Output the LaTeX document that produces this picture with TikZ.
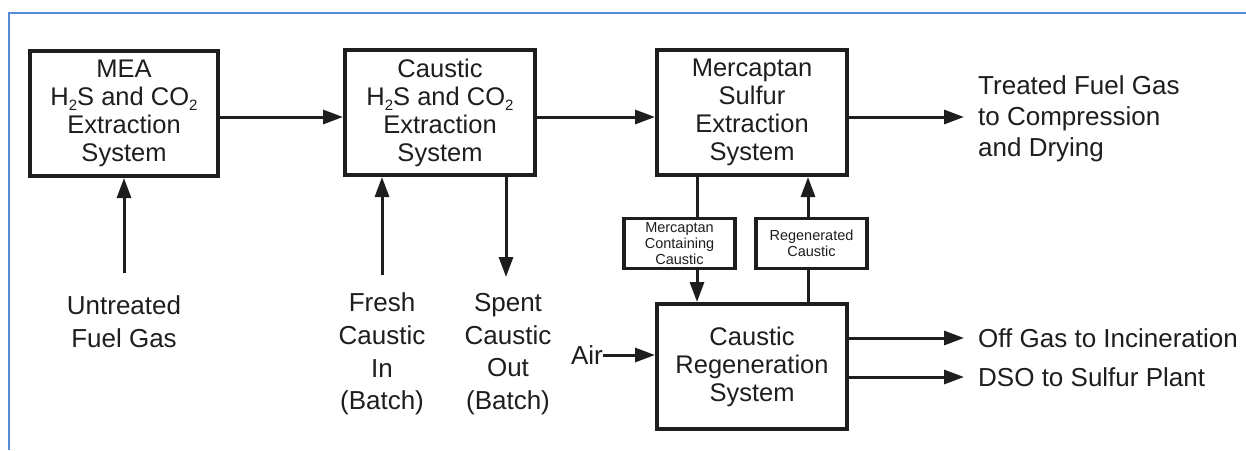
\documentclass[tikz,border=0pt]{standalone}
\usepackage{fontspec}
\setmainfont{Liberation Sans}
\usetikzlibrary{arrows.meta}
\definecolor{frameblue}{RGB}{84,141,212}
\definecolor{ink}{RGB}{30,30,30}
\newcommand{\sbt}[1]{\raisebox{-0.2em}{\fontsize{15}{15}\selectfont #1}}
\tikzset{
  bigbox/.style={draw=ink, line width=4pt, minimum width=190pt, minimum height=125pt,
    align=center, inner sep=0pt, font=\fontsize{25.5}{28}\selectfont, text=ink},
  smallbox/.style={draw=ink, line width=3.5pt, minimum width=111pt, minimum height=50pt,
    align=center, inner sep=0pt, font=\fontsize{14.5}{16}\selectfont, text=ink},
  lbl/.style={inner sep=0pt, font=\fontsize{26}{32.7}\selectfont, text=ink},
  flow/.style={draw=ink, line width=3pt, -{Triangle[length=20pt,width=14pt]}},
  plain/.style={draw=ink, line width=3pt}
}
\begin{document}
\begin{tikzpicture}[x=1pt,y=-1pt]
\useasboundingbox (0,0) rectangle (1246,450);
\fill[white] (0,0) rectangle (1246,450);
\draw[frameblue, line width=2pt] (1246,12.5) -- (8.5,12.5) -- (8.5,450);

% main boxes
\node[bigbox, minimum width=188pt] (mea) at (124,113.5) {MEA\\H\sbt{2}S and CO\sbt{2}\\Extraction\\System};
\node[bigbox] (caus) at (440,112.5) {Caustic\\H\sbt{2}S and CO\sbt{2}\\Extraction\\System};
\node[bigbox] (merc) at (752,112.5) {Mercaptan\\Sulfur\\Extraction\\System};
\node[bigbox] (regen) at (752,366.5) {Caustic\\Regeneration\\System};

% small boxes
\node[smallbox] (mcc) at (679.5,243.5) {Mercaptan\\Containing\\Caustic};
\node[smallbox] (rgc) at (811.5,243.5) {Regenerated\\Caustic};

% labels
\node[lbl, align=center, font=\fontsize{26}{33}\selectfont] (untr) at (124,321.5) {Untreated\\Fuel Gas};
\node[lbl, align=center] (fresh) at (382,354) {Fresh\\Caustic\\In\\(Batch)};
\node[lbl, align=center] (spent) at (508,354) {Spent\\Caustic\\Out\\(Batch)};
\node[lbl, align=left, anchor=west, font=\fontsize{26}{31}\selectfont] (treat) at (978,119) {Treated Fuel Gas\\to Compression\\and Drying};
\node[lbl, anchor=east] (air) at (603,355) {Air};
\node[lbl, anchor=west] (off) at (978,338) {Off Gas to Incineration};
\node[lbl, anchor=west] (dso) at (978,377) {DSO to Sulfur Plant};

% coordinates for free ends and lanes
\coordinate (untrtop) at (124,273);
\coordinate (freshtop) at (382,275);
\coordinate (spentend) at (506,277);
\coordinate (treatend) at (964,117);
\coordinate (offend) at (964,338);
\coordinate (dsoend) at (964,377);
\coordinate (laneL) at (697,0);
\coordinate (laneR) at (808,0);
\coordinate (cfy) at (0,117);

% connectors
\draw[flow] (mea.east |- cfy) -- (caus.west |- cfy);
\draw[flow] (caus.east |- cfy) -- (merc.west |- cfy);
\draw[flow] (merc.east |- cfy) -- (treatend);
\draw[flow] (untrtop) -- (mea.south -| untrtop);
\draw[flow] (freshtop) -- (caus.south -| freshtop);
\draw[flow] (caus.south -| spentend) -- (spentend);
\draw[flow] (air.east) -- (regen.west |- air.east);
\draw[flow] (regen.east |- offend) -- (offend);
\draw[flow] (regen.east |- dsoend) -- (dsoend);

\draw[plain] (merc.south -| laneL) -- (mcc.north -| laneL);
\draw[flow] (mcc.south -| laneL) -- (regen.north -| laneL);
\draw[plain] (regen.north -| laneR) -- (rgc.south -| laneR);
\draw[flow] (rgc.north -| laneR) -- (merc.south -| laneR);
\end{tikzpicture}
\end{document}
